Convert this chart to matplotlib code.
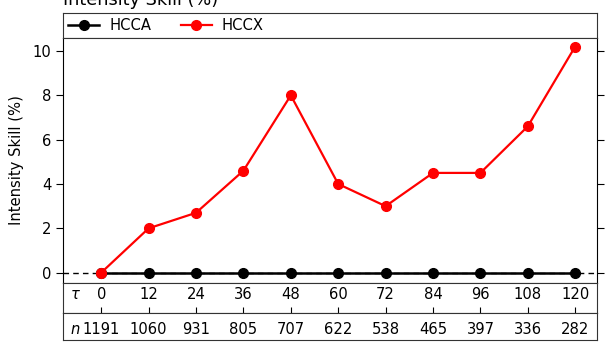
import matplotlib
matplotlib.use("Agg")
import matplotlib.pyplot as plt

lead_times = [0, 12, 24, 36, 48, 60, 72, 84, 96, 108, 120]
n_cases = [1191, 1060, 931, 805, 707, 622, 538, 465, 397, 336, 282]
hcca = [0, 0, 0, 0, 0, 0, 0, 0, 0, 0, 0]
hccx = [0, 2.0, 2.7, 4.6, 8.0, 4.0, 3.0, 4.5, 4.5, 6.6, 10.2]
yticks = [0, 2, 4, 6, 8, 10]

W, H = 606, 346
fig = plt.figure(figsize=(W / 100, H / 100), dpi=100)

left = 63.3 / W
width = (597.3 - 63.3) / W

def fy(px):
    return 1 - px / H

xlim = (-9.6, 125.6)
box_color = "#333333"
fs = 10.6

ax_leg = fig.add_axes([left, fy(37.7), width, fy(13.3) - fy(37.7)])
ax = fig.add_axes([left, fy(283.3), width, fy(37.7) - fy(283.3)])
ax_t = fig.add_axes([left, fy(313.3), width, fy(283.3) - fy(313.3)])
ax_n = fig.add_axes([left, fy(340), width, fy(313.3) - fy(340)])

ax.axhline(0, color="black", lw=1.0, ls=(0, (4, 3)), zorder=1)
l1, = ax.plot(lead_times, hcca, color="black", marker="o", ms=7, lw=1.8, label="HCCA", zorder=3)
l2, = ax.plot(lead_times, hccx, color="red", marker="o", ms=7, lw=1.6, label="HCCX", zorder=4)
ax.set_xlim(*xlim)
ax.set_ylim(-0.48, 10.6)
ax.set_yticks(yticks)
ax.set_xticks([])
ax.tick_params(axis="y", which="both", direction="out", length=5, labelsize=fs,
               right=True, left=True, labelright=False)
ax.set_ylabel("Intensity Skill (%)", fontsize=fs)
ax.yaxis.set_label_coords(-0.0736, 0.5)
for s in ["top", "bottom"]:
    ax.spines[s].set_color(box_color)

ax_leg.set_xticks([]); ax_leg.set_yticks([])
for s in ax_leg.spines.values():
    s.set_color(box_color)
ax_leg.legend(handles=[l1, l2], loc="center left", ncol=2, frameon=False,
              fontsize=fs, handlelength=2.1, columnspacing=2.0, handletextpad=0.7,
              borderaxespad=0.0, borderpad=0.0, bbox_to_anchor=(0.009, 0.5))

ax_t.set_xlim(*xlim)
ax_t.set_ylim(0, 1)
ax_t.set_yticks([])
ax_t.set_xticks(lead_times)
ax_t.tick_params(axis="x", direction="inout", length=8, labelbottom=False, color="black")
for s in ax_t.spines.values():
    s.set_color(box_color)
for x in lead_times:
    ax_t.text(x, 0.62, str(x), ha="center", va="center", fontsize=fs)
ax_t.text(-8.0, 0.62, r"$\tau$", ha="left", va="center", fontsize=fs)

ax_n.set_xlim(*xlim)
ax_n.set_ylim(0, 1)
ax_n.set_xticks([]); ax_n.set_yticks([])
for s in ax_n.spines.values():
    s.set_color(box_color)
for x, n in zip(lead_times, n_cases):
    ax_n.text(x, 0.38, str(n), ha="center", va="center", fontsize=fs)
ax_n.text(-8.0, 0.38, r"$n$", ha="left", va="center", fontsize=fs)

fig.text(left, fy(5), "Intensity Skill (%)", fontsize=12.8, ha="left", va="baseline")

fig.savefig("out.png", dpi=100)
